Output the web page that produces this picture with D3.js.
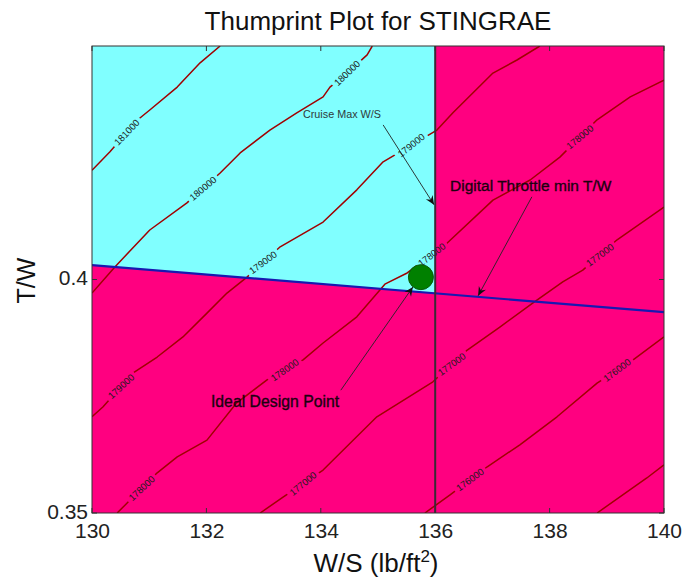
<!DOCTYPE html>
<html>
<head>
<meta charset="utf-8">
<script src="https://cdn.jsdelivr.net/npm/d3@7"></script>
<style>
  html, body { margin: 0; padding: 0; background: #fff; }
  svg { display: block; font-family: "Liberation Sans", Arial, sans-serif; }
</style>
</head>
<body>
<svg id="chart" width="682" height="581"></svg>
<script>
// Axis ticks
const wsTicks = [130, 132, 134, 136, 138, 140];
const twTicks = [0.35, 0.4];

// Constraint lines
const cruiseMaxWS = 136;                       // vertical limit on wing loading
const throttleMinTW = [[130, 0.4031], [140, 0.3930]]; // minimum thrust-to-weight line

// Chosen design point
const designPoint = [135.75, 0.4005];

// Gross weight contours: [W/S, T/W] vertices per level
const contourLevels = [181000, 180000, 179000, 178000, 177000, 176000, 175000];
const contour181000 = [[130.00,0.4234],[130.31,0.4273],[130.80,0.4342],[131.01,0.4363],[131.49,0.4412],[131.89,0.4464],[132.24,0.4500]];
const contour180000 = [[130.00,0.3971],[130.40,0.4027],[131.01,0.4106],[131.66,0.4164],[132.24,0.4228],[132.59,0.4271],[133.11,0.4320],[133.58,0.4357],[134.04,0.4391],[134.16,0.4412],[134.48,0.4444],[134.81,0.4481],[134.90,0.4500]];
const contour179000 = [[130.00,0.3706],[130.19,0.3727],[130.72,0.3800],[131.14,0.3834],[131.59,0.3877],[132.01,0.3928],[132.36,0.3971],[132.71,0.4005],[133.29,0.4070],[134.04,0.4123],[134.63,0.4192],[135.09,0.4252],[136.03,0.4320],[136.31,0.4357],[137.01,0.4442],[137.43,0.4470],[137.83,0.4500]];
const contour178000 = [[130.44,0.3500],[130.61,0.3521],[131.14,0.3586],[131.49,0.3620],[132.01,0.3656],[132.53,0.3736],[133.06,0.3785],[133.69,0.3828],[134.04,0.3864],[134.63,0.3920],[135.12,0.3990],[135.51,0.4014],[136.21,0.4078],[137.01,0.4170],[137.66,0.4213],[138.18,0.4262],[138.83,0.4342],[139.41,0.4391],[140.00,0.4427]];
const contour177000 = [[132.94,0.3500],[133.34,0.3534],[134.04,0.3592],[134.98,0.3706],[135.96,0.3781],[136.56,0.3849],[137.13,0.3898],[137.71,0.3950],[138.23,0.3995],[138.58,0.4020],[139.18,0.4085],[140.00,0.4155]];
const contour176000 = [[135.82,0.3500],[136.26,0.3539],[136.91,0.3599],[137.48,0.3646],[138.13,0.3706],[138.83,0.3778],[139.46,0.3828],[140.00,0.3877]];
const contour175000 = [[138.83,0.3500],[139.70,0.3575],[140.00,0.3603]];
const contourPaths = [contour181000, contour180000, contour179000, contour178000, contour177000, contour176000, contour175000];

// W/S positions where each contour carries its inline label
const contourLabelWS = [[130.61], [131.94, 134.46], [130.51, 132.99, 135.58], [130.87, 133.37, 135.94, 138.53], [133.69, 136.29, 138.88], [136.61, 139.18], []];

// Callouts: text anchor and arrow from -> to, in data units
const callouts = [
  { text: "Cruise Max W/S", at: [134.37, 0.4346], size: 10.8, from: [135.09, 0.4331], to: [135.98, 0.4160] },
  { text: "Digital Throttle min T/W", at: [137.67, 0.4189], size: 15.5, from: [137.69, 0.4177], to: [136.75, 0.3965] },
  { text: "Ideal Design Point", at: [133.20, 0.3727], size: 15.8, from: [134.35, 0.3763], to: [135.61, 0.3984] }
];

const svg = d3.select("#chart");
const pL = 92, pR = 664, pT = 46, pB = 513;

const x = d3.scaleLinear().domain([130, 140]).range([pL, pR]);
const y = d3.scaleLinear().domain([0.35, 0.45]).range([pB, pT]);

const defs = svg.append("defs");
defs.append("clipPath").attr("id", "plotClip")
  .append("rect").attr("x", pL).attr("y", pT).attr("width", pR - pL).attr("height", pB - pT);

defs.append("marker")
  .attr("id", "head")
  .attr("viewBox", "-10 -5 12 10")
  .attr("markerUnits", "userSpaceOnUse")
  .attr("markerWidth", 12).attr("markerHeight", 10)
  .attr("refX", 0).attr("refY", 0)
  .attr("orient", "auto")
  .append("path")
  .attr("d", "M0,0 L-9,-4 L-6,0 L-9,4 Z")
  .attr("fill", "#111");

const plot = svg.append("g").attr("clip-path", "url(#plotClip)");

// Regions: infeasible background, feasible cyan pocket
plot.append("rect")
  .attr("x", pL).attr("y", pT).attr("width", pR - pL).attr("height", pB - pT)
  .attr("fill", "#ff0080");

const twAt = ws => throttleMinTW[0][1] + (ws - throttleMinTW[0][0]) * (throttleMinTW[1][1] - throttleMinTW[0][1]) / (throttleMinTW[1][0] - throttleMinTW[0][0]);
const feasible = [[130, 0.45], [cruiseMaxWS, 0.45], [cruiseMaxWS, twAt(cruiseMaxWS)], [130, twAt(130)]];
plot.append("path")
  .attr("d", d3.line().x(d => x(d[0])).y(d => y(d[1]))(feasible) + "Z")
  .attr("fill", "#80ffff");

// Contour labels and gaps in the lines behind them
const labelFont = 9.5;
const labels = [];
contourPaths.forEach((pts, i) => {
  const px = pts.map(p => [x(p[0]), y(p[1])]);
  contourLabelWS[i].forEach(ws => {
    const cx = x(ws);
    let k = 0;
    while (k < px.length - 2 && px[k + 1][0] < cx) k++;
    const a = px[k], b = px[k + 1];
    const t = (cx - a[0]) / (b[0] - a[0]);
    const cy = a[1] + t * (b[1] - a[1]);
    // slope from a wider window for a steadier angle
    const ia = Math.max(0, k - 1), ib = Math.min(px.length - 1, k + 2);
    const ang = Math.atan2(px[ib][1] - px[ia][1], px[ib][0] - px[ia][0]) * 180 / Math.PI;
    labels.push({ text: String(contourLevels[i]), cx, cy, ang });
  });
});

const mask = defs.append("mask").attr("id", "labelGaps").attr("maskUnits", "userSpaceOnUse")
  .attr("x", 0).attr("y", 0).attr("width", 682).attr("height", 581);
mask.append("rect").attr("x", 0).attr("y", 0).attr("width", 682).attr("height", 581).attr("fill", "#fff");
mask.selectAll("rect.gap").data(labels).join("rect")
  .attr("class", "gap")
  .attr("x", -19).attr("y", -5).attr("width", 38).attr("height", 10)
  .attr("fill", "#000")
  .attr("transform", d => `translate(${d.cx},${d.cy}) rotate(${d.ang})`);

plot.append("g").attr("mask", "url(#labelGaps)")
  .selectAll("path").data(contourPaths).join("path")
  .attr("d", d3.line().x(d => x(d[0])).y(d => y(d[1])))
  .attr("fill", "none")
  .attr("stroke", "#a00000")
  .attr("stroke-width", 1.5)
  .attr("stroke-linejoin", "round");

plot.append("g").selectAll("text").data(labels).join("text")
  .attr("transform", d => `translate(${d.cx},${d.cy}) rotate(${d.ang})`)
  .attr("text-anchor", "middle")
  .attr("dy", "0.35em")
  .attr("font-size", labelFont)
  .attr("fill", "#1a1a1a")
  .text(d => d.text);

// Constraint lines
plot.append("line")
  .attr("x1", x(throttleMinTW[0][0])).attr("y1", y(throttleMinTW[0][1]))
  .attr("x2", x(throttleMinTW[1][0])).attr("y2", y(throttleMinTW[1][1]))
  .attr("stroke", "#1818b0").attr("stroke-width", 2.2);

plot.append("line")
  .attr("x1", x(cruiseMaxWS)).attr("x2", x(cruiseMaxWS))
  .attr("y1", y(0.35)).attr("y2", y(0.45))
  .attr("stroke", "#3a2a35").attr("stroke-width", 2);

// Design point
plot.append("circle")
  .attr("cx", x(designPoint[0])).attr("cy", y(designPoint[1]))
  .attr("r", 12.5)
  .attr("fill", "#008000")
  .attr("stroke", "#0a5a0a").attr("stroke-width", 1);

// Callouts
const ann = svg.append("g");
ann.selectAll("line").data(callouts).join("line")
  .attr("x1", d => x(d.from[0])).attr("y1", d => y(d.from[1]))
  .attr("x2", d => x(d.to[0])).attr("y2", d => y(d.to[1]))
  .attr("stroke", "#222").attr("stroke-width", 0.9)
  .attr("marker-end", "url(#head)");
ann.selectAll("text").data(callouts).join("text")
  .attr("x", d => x(d.at[0])).attr("y", d => y(d.at[1]))
  .attr("text-anchor", "middle")
  .attr("font-size", d => d.size)
  .attr("fill", (d, i) => i === 0 ? "#2f3a3a" : "#1c0010")
  .attr("stroke", (d, i) => i === 0 ? "none" : "#1c0010")
  .attr("stroke-width", 0.35)
  .text(d => d.text);

// Axes box with inward ticks on all four sides
const tickLen = 5;
const axes = svg.append("g").attr("stroke", "#333").attr("stroke-width", 1).attr("fill", "none");
axes.append("rect").attr("x", pL).attr("y", pT).attr("width", pR - pL).attr("height", pB - pT);
axes.selectAll("line.xb").data(wsTicks).join("line")
  .attr("class", "xb")
  .attr("x1", d => x(d)).attr("x2", d => x(d)).attr("y1", pB).attr("y2", pB - tickLen);
axes.selectAll("line.xt").data(wsTicks).join("line")
  .attr("class", "xt")
  .attr("x1", d => x(d)).attr("x2", d => x(d)).attr("y1", pT).attr("y2", pT + tickLen);
axes.selectAll("line.yl").data(twTicks).join("line")
  .attr("class", "yl")
  .attr("y1", d => y(d)).attr("y2", d => y(d)).attr("x1", pL).attr("x2", pL + tickLen);
axes.selectAll("line.yr").data(twTicks).join("line")
  .attr("class", "yr")
  .attr("y1", d => y(d)).attr("y2", d => y(d)).attr("x1", pR).attr("x2", pR - tickLen);

// Tick labels via d3 axes, with the axis lines themselves hidden
const xAxis = svg.append("g").attr("transform", `translate(0,${pB})`)
  .call(d3.axisBottom(x).tickValues(wsTicks).tickSize(0).tickPadding(10).tickFormat(d3.format("d")));
const yAxis = svg.append("g").attr("transform", `translate(${pL},0)`)
  .call(d3.axisLeft(y).tickValues(twTicks).tickSize(0).tickPadding(4).tickFormat(d => d === 0.4 ? "0.4" : d3.format(".2f")(d)));
[xAxis, yAxis].forEach(g => {
  g.select(".domain").remove();
  g.selectAll("text").attr("font-size", 21).attr("fill", "#222")
    .attr("font-family", "\"Liberation Sans\", Arial, sans-serif");
});
xAxis.selectAll("text").attr("dy", "0.71em");
yAxis.selectAll("text").attr("dy", "0.25em");

// Titles
svg.append("text")
  .attr("x", (pL + pR) / 2).attr("y", 30)
  .attr("text-anchor", "middle").attr("font-size", 26).attr("fill", "#111")
  .text("Thumprint Plot for STINGRAE");

svg.append("text")
  .attr("transform", `translate(35,${(pT + pB) / 2 + 1}) rotate(-90)`)
  .attr("text-anchor", "middle").attr("font-size", 25).attr("fill", "#111")
  .text("T/W");

const xl = svg.append("text")
  .attr("x", (pL + pR) / 2 - 2).attr("y", 572)
  .attr("text-anchor", "middle").attr("font-size", 26).attr("fill", "#111");
xl.append("tspan").text("W/S (lb/ft");
xl.append("tspan").attr("font-size", 17).attr("dy", -10).text("2");
xl.append("tspan").attr("dy", 10).text(")");
</script>
</body>
</html>
